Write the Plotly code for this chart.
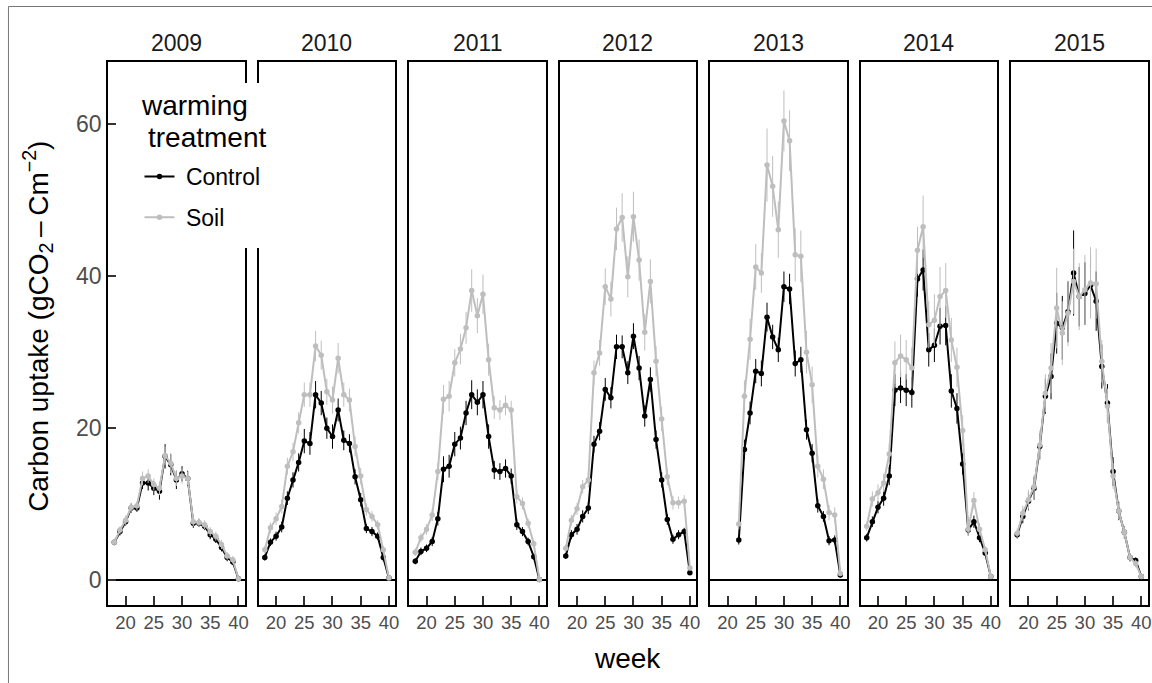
import plotly.graph_objects as go

# ---------------- data ----------------
years = ["2009", "2010", "2011", "2012", "2013", "2014", "2015"]
weeks = [18, 19, 20, 21, 22, 23, 24, 25, 26, 27, 28, 29, 30, 31, 32, 33, 34, 35, 36, 37, 38, 39, 40]
weeks_2013 = [22, 23, 24, 25, 26, 27, 28, 29, 30, 31, 32, 33, 34, 35, 36, 37, 38, 39, 40]

ctrl_2009 = [5.0, 6.4, 7.7, 9.5, 9.5, 12.8, 12.8, 12.1, 11.7, 16.3, 15.2, 13.2, 14.0, 13.4, 7.5, 7.5, 7.1, 6.0, 5.4, 4.3, 3.0, 2.4, 0.2]
soil_2009 = [5.0, 6.6, 7.9, 9.6, 9.8, 13.4, 13.7, 12.6, 12.1, 16.4, 15.4, 13.4, 13.7, 13.4, 7.7, 7.6, 7.3, 6.4, 5.8, 4.7, 3.2, 2.7, 0.2]
ctrl_2010 = [3.0, 5.0, 5.8, 7.0, 10.8, 13.2, 15.5, 18.3, 18.0, 24.4, 23.3, 20.0, 18.9, 22.4, 18.4, 18.0, 13.6, 10.6, 6.8, 6.4, 5.8, 3.0, 0.3]
soil_2010 = [4.0, 6.9, 8.1, 9.7, 15.0, 16.9, 20.7, 24.4, 24.4, 30.8, 29.6, 24.8, 23.7, 29.2, 24.4, 23.7, 17.6, 13.7, 9.3, 8.4, 7.3, 4.0, 0.3]
ctrl_2011 = [2.5, 3.8, 4.2, 5.1, 8.1, 14.6, 15.0, 17.9, 18.7, 22.0, 24.4, 23.4, 24.4, 18.9, 14.5, 14.3, 14.7, 13.7, 7.3, 6.4, 5.1, 3.1, 0.1]
soil_2011 = [3.7, 5.6, 6.7, 8.6, 14.3, 23.8, 24.2, 28.6, 30.4, 33.2, 38.1, 34.8, 37.6, 29.0, 22.7, 22.4, 23.0, 22.4, 11.0, 10.1, 7.5, 4.8, 0.1]
ctrl_2012 = [3.2, 6.0, 6.7, 8.4, 9.5, 17.9, 19.6, 25.1, 24.0, 30.7, 30.7, 27.3, 32.1, 27.9, 21.6, 26.4, 18.5, 13.2, 8.0, 5.4, 6.0, 6.4, 1.0]
soil_2012 = [4.2, 7.9, 9.4, 12.3, 13.2, 27.3, 29.9, 38.6, 37.0, 46.2, 47.7, 39.9, 47.8, 42.1, 32.6, 39.3, 28.8, 21.2, 13.6, 10.2, 10.2, 10.4, 1.6]
ctrl_2013 = [5.3, 17.2, 22.0, 27.5, 27.2, 34.6, 32.0, 30.3, 38.6, 38.3, 28.5, 29.0, 19.8, 16.7, 9.8, 8.4, 5.2, 5.3, 0.7]
soil_2013 = [7.4, 24.2, 31.7, 41.2, 40.4, 54.6, 51.8, 46.1, 60.4, 57.8, 42.8, 42.6, 30.0, 25.7, 15.0, 13.3, 8.9, 8.6, 0.9]
ctrl_2014 = [5.6, 7.7, 9.6, 10.8, 13.7, 25.0, 25.3, 25.0, 24.7, 39.6, 40.8, 30.3, 30.9, 33.4, 33.5, 24.9, 22.6, 15.3, 6.6, 7.7, 5.6, 3.6, 0.5]
soil_2014 = [7.1, 10.7, 11.5, 12.8, 16.6, 28.6, 29.5, 29.0, 27.9, 43.4, 46.5, 33.6, 34.2, 37.3, 38.1, 31.6, 28.0, 19.7, 6.7, 10.5, 6.7, 4.0, 0.5]
ctrl_2015 = [6.0, 8.4, 10.4, 12.1, 17.6, 24.2, 26.8, 33.8, 33.2, 35.3, 40.4, 37.3, 37.7, 38.8, 36.7, 28.1, 23.3, 14.3, 9.1, 6.3, 3.0, 2.6, 0.5]
soil_2015 = [6.2, 8.8, 10.6, 12.3, 17.8, 24.6, 27.9, 35.8, 32.5, 35.1, 39.3, 37.3, 38.2, 39.1, 39.0, 28.8, 22.9, 13.7, 9.1, 6.3, 3.0, 2.2, 0.5]

ctrl_err_2009 = [0.4, 0.5, 0.5, 0.6, 0.5, 0.8, 1.0, 0.9, 1.1, 1.6, 1.4, 1.2, 1.0, 1.0, 0.6, 0.5, 0.5, 0.6, 0.5, 0.5, 0.5, 0.4, 0.2]
soil_err_2009 = [0.5, 0.5, 0.6, 0.6, 0.6, 0.9, 0.9, 0.8, 0.9, 1.2, 1.3, 1.0, 1.0, 0.9, 0.6, 0.6, 0.6, 0.6, 0.6, 0.6, 0.5, 0.5, 0.2]
ctrl_err_2010 = [0.4, 0.5, 0.6, 0.7, 0.9, 1.0, 1.2, 1.6, 1.5, 1.8, 1.6, 1.4, 1.6, 1.5, 1.3, 1.2, 1.0, 0.9, 0.6, 0.6, 0.5, 0.5, 0.2]
soil_err_2010 = [0.5, 0.7, 0.8, 0.9, 1.1, 1.2, 1.4, 1.6, 1.6, 2.0, 1.9, 1.7, 1.8, 2.0, 1.6, 1.5, 1.3, 1.1, 0.8, 0.7, 0.6, 0.5, 0.2]
ctrl_err_2011 = [0.4, 0.5, 0.5, 0.6, 0.9, 1.7, 1.5, 1.6, 1.5, 1.6, 1.9, 1.7, 1.8, 1.6, 1.2, 1.1, 1.2, 1.0, 0.7, 0.6, 0.5, 0.4, 0.2]
soil_err_2011 = [0.5, 0.6, 0.7, 0.8, 1.1, 1.9, 2.0, 1.8, 2.0, 2.1, 2.8, 2.3, 2.6, 2.1, 1.5, 1.3, 1.3, 1.2, 0.9, 0.8, 0.6, 0.5, 0.2]
ctrl_err_2012 = [0.4, 0.6, 0.7, 0.8, 0.8, 1.1, 1.2, 1.5, 1.4, 1.6, 1.5, 1.5, 1.7, 1.6, 1.4, 1.6, 1.2, 1.0, 0.7, 0.6, 0.6, 0.5, 0.3]
soil_err_2012 = [0.5, 0.7, 0.8, 0.9, 1.0, 1.6, 1.7, 2.4, 2.3, 2.8, 3.2, 2.7, 3.3, 2.7, 2.4, 2.9, 2.0, 1.6, 1.1, 0.9, 0.8, 0.8, 0.3]
ctrl_err_2013 = [0.6, 1.3, 1.5, 1.6, 1.7, 1.9, 1.6, 1.6, 2.0, 2.0, 1.7, 1.7, 1.3, 1.2, 0.9, 0.7, 0.6, 0.6, 0.3]
soil_err_2013 = [0.7, 2.1, 2.7, 3.0, 2.6, 4.8, 4.0, 3.7, 4.0, 4.0, 3.5, 3.4, 2.8, 2.4, 1.5, 1.3, 1.0, 1.0, 0.3]
ctrl_err_2014 = [0.5, 0.7, 0.8, 1.0, 1.2, 2.1, 2.0, 2.1, 2.0, 2.3, 2.7, 2.2, 2.2, 2.4, 2.6, 2.2, 2.0, 1.4, 0.7, 0.8, 0.6, 0.4, 0.2]
soil_err_2014 = [0.6, 1.0, 1.1, 1.2, 1.4, 2.8, 2.8, 2.6, 2.7, 3.1, 4.1, 3.1, 3.4, 3.9, 3.6, 2.9, 2.6, 2.0, 0.9, 1.1, 0.8, 0.5, 0.2]
ctrl_err_2015 = [0.5, 0.9, 1.2, 1.5, 1.7, 2.3, 3.0, 4.0, 4.2, 4.0, 5.6, 3.9, 4.1, 4.2, 3.9, 2.9, 2.5, 1.9, 1.2, 0.8, 0.5, 0.4, 0.2]
soil_err_2015 = [0.6, 1.0, 1.3, 1.6, 1.9, 2.5, 3.3, 5.3, 4.2, 4.3, 4.3, 4.4, 4.6, 4.7, 4.6, 2.8, 2.3, 1.7, 1.1, 0.8, 0.6, 0.5, 0.2]

x_ticks = [20, 25, 30, 35, 40]
y_ticks = [0, 20, 40, 60]

# ---------------- figure ----------------
W, H = 1152, 683
FONT = "Liberation Sans, Arial, Helvetica, sans-serif"
CTRL_COL = "#000000"
SOIL_COL = "#BEBEBE"

def px_x(p):
    return p / W

def px_y(p):
    return 1 - p / H

panel_left = [108.5, 259.5, 410.5, 561.5, 712.5, 863.5, 1014.5]
panel_w = 137.0
y_top, y_bot = 62.0, 605.0

series = {
    "2009": (weeks, ctrl_2009, ctrl_err_2009, soil_2009, soil_err_2009),
    "2010": (weeks, ctrl_2010, ctrl_err_2010, soil_2010, soil_err_2010),
    "2011": (weeks, ctrl_2011, ctrl_err_2011, soil_2011, soil_err_2011),
    "2012": (weeks, ctrl_2012, ctrl_err_2012, soil_2012, soil_err_2012),
    "2013": (weeks_2013, ctrl_2013, ctrl_err_2013, soil_2013, soil_err_2013),
    "2014": (weeks, ctrl_2014, ctrl_err_2014, soil_2014, soil_err_2014),
    "2015": (weeks, ctrl_2015, ctrl_err_2015, soil_2015, soil_err_2015),
}

fig = go.Figure()
layout = {}
annotations = []

for i, yr in enumerate(years):
    n = "" if i == 0 else str(i + 1)
    xa, ya = "x" + n, "y" + n
    wk, c, ce, s, se = series[yr]
    fig.add_trace(go.Scatter(
        x=wk, y=c, mode="lines+markers", name="\u00a0Control", legendgroup="Control",
        showlegend=(i == 0), xaxis=xa, yaxis=ya,
        line=dict(color=CTRL_COL, width=2), marker=dict(color=CTRL_COL, size=5.5),
        error_y=dict(type="data", array=ce, visible=True, color=CTRL_COL, thickness=1, width=0),
    ))
    fig.add_trace(go.Scatter(
        x=wk, y=s, mode="lines+markers", name="\u00a0Soil", legendgroup="Soil",
        showlegend=(i == 0), xaxis=xa, yaxis=ya,
        line=dict(color=SOIL_COL, width=2), marker=dict(color=SOIL_COL, size=5.5),
        error_y=dict(type="data", array=se, visible=True, color=SOIL_COL, thickness=1, width=0),
    ))
    L = panel_left[i]
    R = L + panel_w
    layout["xaxis" + n] = dict(
        domain=[px_x(L), px_x(R)], range=[16.9, 41.1], anchor=ya,
        tickvals=x_ticks, ticktext=[str(t) for t in x_ticks], ticks="inside", ticklen=9, tickwidth=1.5,
        tickcolor="#333333", tickfont=dict(family=FONT, size=18.5, color="#4D4D4D"),
        showline=True, mirror=True, linecolor="black", linewidth=1.8,
        showgrid=False, zeroline=False,
    )
    layout["yaxis" + n] = dict(
        domain=[px_y(y_bot), px_y(y_top)], range=[-3.25, 68.15], anchor=xa,
        tickvals=y_ticks, ticks="inside" if i == 0 else "", ticklen=8, tickwidth=1.5,
        tickcolor="#333333", showticklabels=(i == 0),
        tickfont=dict(family=FONT, size=23, color="#4D4D4D"),
        showline=True, mirror=True, linecolor="black", linewidth=1.8,
        showgrid=False, zeroline=True, zerolinecolor="black", zerolinewidth=1.8,
    )
    annotations.append(dict(
        text=yr, x=px_x((L + R) / 2), y=px_y(43), xref="paper", yref="paper",
        showarrow=False, xanchor="center", yanchor="middle",
        font=dict(family=FONT, size=23, color="#1A1A1A"),
    ))

annotations.append(dict(
    text="week", x=px_x(630), y=px_y(658), xref="paper", yref="paper",
    showarrow=False, xanchor="center", yanchor="middle",
    font=dict(family=FONT, size=28, color="black"),
))
annotations.append(dict(
    text="Carbon uptake (gCO<sub>2</sub>\u2009–\u2009Cm<sup>−2</sup>)", x=px_x(38), y=px_y(326),
    xref="paper", yref="paper", showarrow=False, textangle=-90,
    xanchor="center", yanchor="middle",
    font=dict(family=FONT, size=28, color="black"),
))
# legend title (two lines, as in the reference)
annotations.append(dict(
    text="warming", x=px_x(139), y=px_y(105), xref="paper", yref="paper",
    showarrow=False, xanchor="left", yanchor="middle",
    font=dict(family=FONT, size=28, color="black"),
))
annotations.append(dict(
    text="treatment", x=px_x(147), y=px_y(137), xref="paper", yref="paper",
    showarrow=False, xanchor="left", yanchor="middle",
    font=dict(family=FONT, size=28, color="black"),
))

shapes = [
    # legend background box
    dict(type="rect", xref="paper", yref="paper", layer="above",
         x0=px_x(120), x1=px_x(262), y0=px_y(248), y1=px_y(83),
         fillcolor="white", line=dict(width=0)),
    # outer frame (partly cropped)
    dict(type="rect", xref="paper", yref="paper", layer="above",
         x0=px_x(8.5), x1=1.02, y0=-0.02, y1=px_y(6.5),
         fillcolor="rgba(0,0,0,0)", line=dict(color="#777777", width=1)),
]

fig.update_layout(
    width=W, height=H,
    margin=dict(l=0, r=0, t=0, b=0),
    paper_bgcolor="white", plot_bgcolor="white",
    font=dict(family=FONT, color="black"),
    annotations=annotations, shapes=shapes,
    legend=dict(
        x=px_x(140), y=px_y(155), xanchor="left", yanchor="top",
        bgcolor="rgba(0,0,0,0)", borderwidth=0,
        font=dict(family=FONT, size=23, color="black"),
        itemwidth=30, tracegroupgap=8,
    ),
    **layout,
)

fig.write_html("out.html")
